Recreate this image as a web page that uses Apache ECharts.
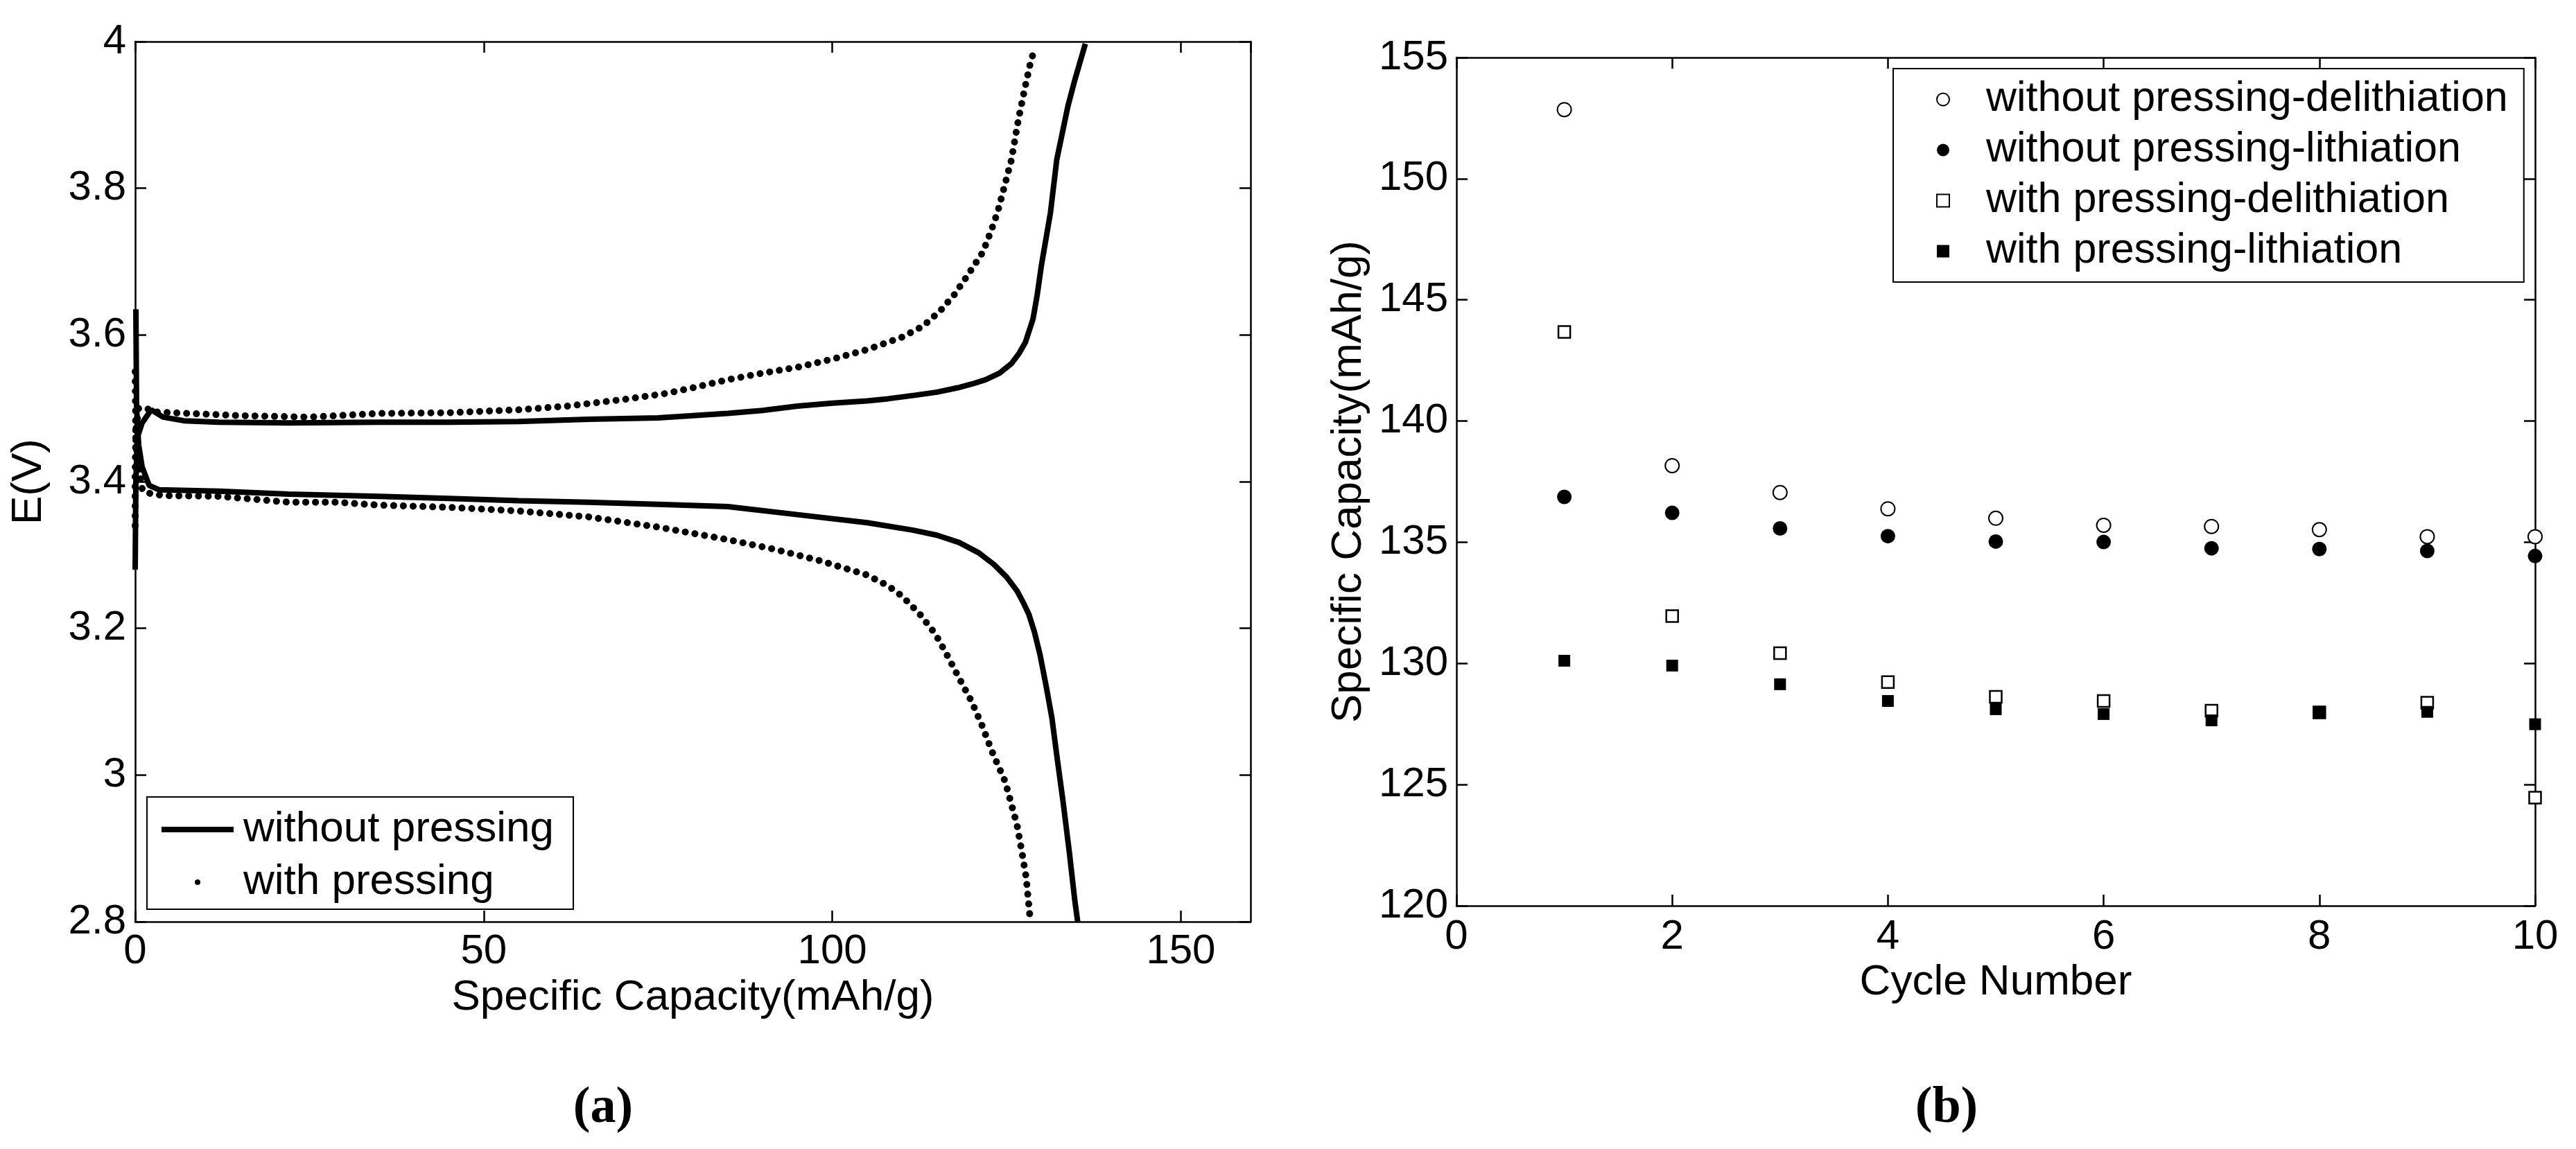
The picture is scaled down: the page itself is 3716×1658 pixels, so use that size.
<!DOCTYPE html>
<html>
<head>
<meta charset="utf-8">
<title>Specific capacity - pressing</title>
<script src="https://cdn.jsdelivr.net/npm/echarts@6/dist/echarts.min.js"></script>
<style>
  html, body { margin: 0; padding: 0; background: #fff; }
  #main { width: 3716px; height: 1658px; }
</style>
</head>
<body>
<div id="main"></div>
<script>
// (a) charge/discharge curves: capacity (mAh/g) and potential (V)
var noPressChargeCap = [0.0, 0.1, 0.3, 1.0, 2.3, 4.0, 7.0, 12, 22, 35, 45, 55, 65, 75, 80, 85, 90, 95, 100, 105, 108, 112, 115, 118, 120, 122, 124, 125.7, 126.8, 127.7, 128.8, 129.4, 130.0, 131.3, 132.2, 133.8, 134.8, 136.3];
var noPressChargeV = [3.28, 3.40, 3.46, 3.48, 3.498, 3.488, 3.483, 3.481, 3.480, 3.481, 3.481, 3.482, 3.485, 3.487, 3.490, 3.493, 3.497, 3.503, 3.507, 3.510, 3.513, 3.518, 3.522, 3.528, 3.533, 3.539, 3.548, 3.561, 3.575, 3.590, 3.622, 3.655, 3.695, 3.767, 3.839, 3.912, 3.948, 3.997];

var noPressDischargeCap = [0.1, 0.2, 0.5, 1.0, 2.0, 3.4, 12, 22, 35, 45, 55, 65, 75, 85, 95, 105, 111.5, 115, 118.2, 121, 123.2, 125, 126.5, 127.4, 128.2, 129.0, 129.8, 130.7, 131.5, 132.3, 133.1, 134.0, 134.8, 135.2];
var noPressDischargeV = [3.635, 3.50, 3.45, 3.42, 3.395, 3.389, 3.387, 3.383, 3.380, 3.377, 3.374, 3.372, 3.369, 3.366, 3.355, 3.344, 3.334, 3.327, 3.317, 3.303, 3.287, 3.270, 3.251, 3.235, 3.219, 3.195, 3.164, 3.120, 3.078, 3.020, 2.964, 2.895, 2.828, 2.800];

var pressChargeCap = [0.0, 0.0, 0.1, 0.5, 1.5, 3.0, 5.4, 15, 25, 35, 45, 55, 62, 70, 76, 80, 85, 90, 95, 100, 105, 110, 113, 115.5, 117.5, 119.1, 120.5, 121.6, 122.7, 123.7, 124.7, 125.7, 126.7, 127.7, 128.4, 129.0];
var pressChargeV = [3.34, 3.41, 3.47, 3.50, 3.50, 3.495, 3.494, 3.490, 3.488, 3.493, 3.494, 3.498, 3.503, 3.512, 3.520, 3.528, 3.539, 3.548, 3.556, 3.567, 3.580, 3.597, 3.612, 3.633, 3.655, 3.677, 3.697, 3.713, 3.740, 3.767, 3.803, 3.839, 3.894, 3.940, 3.970, 3.990];

var pressDischargeCap = [0.0, 0.1, 1.0, 1.5, 4.0, 12, 22, 28.7, 35, 45, 55, 65, 75, 85, 91.6, 98.3, 104.9, 108, 110, 112.5, 114.8, 116.5, 118.2, 120, 121.5, 123, 124.8, 125.7, 126.5, 127.2, 127.8, 128.3, 128.4];
var pressDischargeV = [3.55, 3.45, 3.39, 3.385, 3.381, 3.380, 3.372, 3.372, 3.368, 3.365, 3.360, 3.352, 3.338, 3.321, 3.308, 3.292, 3.273, 3.258, 3.244, 3.220, 3.192, 3.163, 3.132, 3.100, 3.067, 3.030, 2.991, 2.960, 2.932, 2.895, 2.861, 2.812, 2.800];

// (b) cycling
var cycles = [1, 2, 3, 4, 5, 6, 7, 8, 9, 10];
var noPressDelith = [152.85, 138.16, 137.05, 136.38, 135.99, 135.70, 135.65, 135.52, 135.23, 135.23];
var noPressLith = [136.87, 136.21, 135.57, 135.25, 135.03, 135.01, 134.75, 134.72, 134.64, 134.43];
var pressDelith = [143.68, 131.95, 130.42, 129.23, 128.62, 128.45, 128.05, 127.98, 128.38, 124.46];
var pressLith = [130.11, 129.91, 129.14, 128.45, 128.11, 127.91, 127.65, 127.96, 128.00, 127.49];

var FONT = '"Liberation Sans", Arial, Helvetica, sans-serif';

function zip(xs, ys) {
    return xs.map(function (x, i) { return [x, ys[i]]; });
}

// axis with frame line and inside ticks, labels off unless given
function frameAxis(opt) {
    var base = {
        type: 'value',
        axisLine: { show: true, onZero: false, lineStyle: { color: '#000', width: 2.5 } },
        axisTick: { show: true, inside: true, length: 16, lineStyle: { color: '#000', width: 2.5 } },
        splitLine: { show: false },
        axisLabel: { show: false }
    };
    return Object.assign(base, opt);
}

function labels(margin, extra) {
    return Object.assign({ show: true, color: '#000', fontSize: 60, fontFamily: FONT, margin: margin }, extra || {});
}

var nameStyle = { color: '#000', fontSize: 62, fontFamily: FONT };
var capStyle = { fill: '#000', fontSize: 74, fontWeight: 'bold', fontFamily: '"Liberation Serif", serif', align: 'center', verticalAlign: 'middle' };

var chart = echarts.init(document.getElementById('main'));

var option = {
    animation: false,
    backgroundColor: '#fff',
    grid: [
        { left: 195, top: 60, width: 1609, height: 1270, outerBoundsMode: 'none' },
        { left: 2101, top: 83, width: 1556, height: 1224, outerBoundsMode: 'none' }
    ],
    xAxis: [
        frameAxis({ gridIndex: 0, position: 'bottom', min: 0, max: 160, interval: 50,
            axisLabel: labels(13, { showMaxLabel: false }),
            name: 'Specific Capacity(mAh/g)', nameLocation: 'middle', nameGap: 79, nameTextStyle: nameStyle }),
        frameAxis({ gridIndex: 0, position: 'top', min: 0, max: 160, interval: 50 }),
        frameAxis({ gridIndex: 1, position: 'bottom', min: 0, max: 10, interval: 2,
            axisLabel: labels(15),
            name: 'Cycle Number', nameLocation: 'middle', nameGap: 78, nameTextStyle: nameStyle }),
        frameAxis({ gridIndex: 1, position: 'top', min: 0, max: 10, interval: 2 })
    ],
    yAxis: [
        frameAxis({ gridIndex: 0, position: 'left', min: 2.8, max: 4, interval: 0.2,
            axisLabel: labels(13),
            name: 'E(V)', nameLocation: 'middle', nameGap: 122, nameRotate: 90, nameTextStyle: nameStyle }),
        frameAxis({ gridIndex: 0, position: 'right', min: 2.8, max: 4, interval: 0.2 }),
        frameAxis({ gridIndex: 1, position: 'left', min: 120, max: 155, interval: 5,
            axisLabel: labels(12),
            name: 'Specific Capacity(mAh/g)', nameLocation: 'middle', nameGap: 124, nameRotate: 90, nameTextStyle: nameStyle }),
        frameAxis({ gridIndex: 1, position: 'right', min: 120, max: 155, interval: 5 })
    ],
    legend: [
        {
            left: 212, top: 1150, orient: 'vertical', selectedMode: false,
            data: [
                { name: 'without pressing', icon: 'rect' },
                { name: 'with pressing', icon: 'circle' }
            ],
            itemWidth: 104, itemHeight: 8, itemGap: 14,
            padding: [16, 28, 8, 21],
            borderColor: '#000', borderWidth: 2, backgroundColor: '#fff',
            textStyle: { color: '#000', fontSize: 62, fontFamily: FONT, lineHeight: 62, padding: [0, 0, 0, 9] }
        },
        {
            left: 2731, top: 99, orient: 'vertical', selectedMode: false,
            data: [
                { name: 'without pressing-delithiation', icon: 'circle', itemStyle: { color: '#fff', borderColor: '#000', borderWidth: 2, opacity: 1 } },
                { name: 'without pressing-lithiation', icon: 'circle', itemStyle: { color: '#000', borderWidth: 0, opacity: 1 } },
                { name: 'with pressing-delithiation', icon: 'rect', itemStyle: { color: '#fff', borderColor: '#000', borderWidth: 2, opacity: 1 } },
                { name: 'with pressing-lithiation', icon: 'rect', itemStyle: { color: '#000', borderWidth: 0, opacity: 1 } }
            ],
            itemWidth: 18, itemHeight: 18, itemGap: 12,
            padding: [14, 23, 14, 62],
            borderColor: '#000', borderWidth: 2, backgroundColor: '#fff',
            textStyle: { color: '#000', fontSize: 61, fontFamily: FONT, lineHeight: 60, padding: [0, 0, 0, 48] }
        }
    ],
    graphic: [
        { type: 'text', x: 870, y: 1600, style: Object.assign({ text: '(a)' }, capStyle) },
        { type: 'text', x: 2808, y: 1600, style: Object.assign({ text: '(b)' }, capStyle) }
    ],
    series: [
        {
            name: 'with pressing', type: 'line', xAxisIndex: 0, yAxisIndex: 0,
            data: zip(pressChargeCap, pressChargeV), symbol: 'none', color: '#000',
            lineStyle: { color: '#000', width: 10, type: [0.1, 14], cap: 'round' }
        },
        {
            name: 'with pressing', type: 'line', xAxisIndex: 0, yAxisIndex: 0,
            data: zip(pressDischargeCap, pressDischargeV), symbol: 'none', color: '#000',
            lineStyle: { color: '#000', width: 10, type: [0.1, 14], cap: 'round' }
        },
        {
            name: 'without pressing', type: 'line', xAxisIndex: 0, yAxisIndex: 0,
            data: zip(noPressChargeCap, noPressChargeV), symbol: 'none', color: '#000',
            lineStyle: { color: '#000', width: 8 }
        },
        {
            name: 'without pressing', type: 'line', xAxisIndex: 0, yAxisIndex: 0,
            data: zip(noPressDischargeCap, noPressDischargeV), symbol: 'none', color: '#000',
            lineStyle: { color: '#000', width: 8 }
        },
        {
            name: 'without pressing-delithiation', type: 'scatter', xAxisIndex: 2, yAxisIndex: 2,
            data: zip(cycles, noPressDelith), symbol: 'circle', symbolSize: 20,
            itemStyle: { color: '#fff', borderColor: '#000', borderWidth: 2, opacity: 1 }
        },
        {
            name: 'without pressing-lithiation', type: 'scatter', xAxisIndex: 2, yAxisIndex: 2,
            data: zip(cycles, noPressLith), symbol: 'circle', symbolSize: 21,
            itemStyle: { color: '#000', opacity: 1 }
        },
        {
            name: 'with pressing-delithiation', type: 'scatter', xAxisIndex: 2, yAxisIndex: 2,
            data: zip(cycles, pressDelith), symbol: 'rect', symbolSize: 17,
            itemStyle: { color: '#fff', borderColor: '#000', borderWidth: 2.5, opacity: 1 }
        },
        {
            name: 'with pressing-lithiation', type: 'scatter', xAxisIndex: 2, yAxisIndex: 2,
            data: zip(cycles, pressLith), symbol: 'rect', symbolSize: 17,
            itemStyle: { color: '#000', opacity: 1 }
        }
    ]
};

chart.setOption(option);
</script>
</body>
</html>
